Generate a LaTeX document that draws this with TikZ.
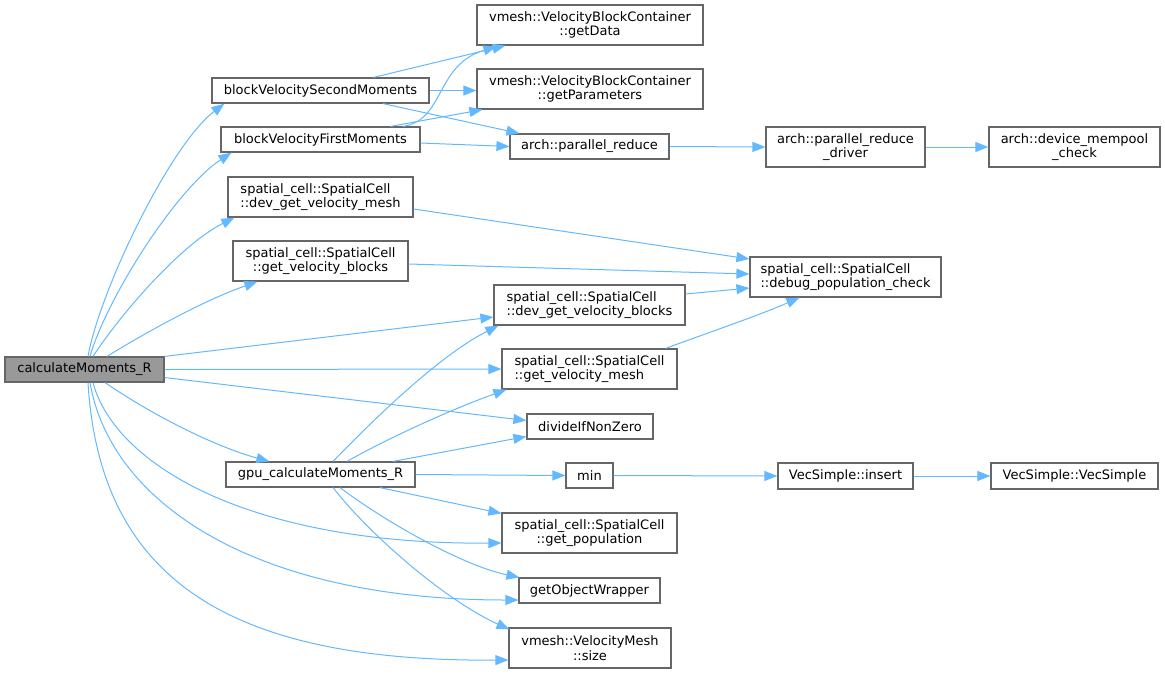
\documentclass[tikz,border=0pt]{standalone}
\usepackage{fontspec}
\setmainfont{DejaVu Sans}
\usetikzlibrary{arrows.meta,calc}
\definecolor{edgec}{HTML}{63B8FF}
\definecolor{bord}{HTML}{666666}
\definecolor{hl}{HTML}{999999}
\tikzset{
  fn/.style={draw=bord, line width=1.2pt, fill=white, inner sep=0pt, text=black,
    font=\fontsize{13}{14.5}\selectfont, align=center},
  fnl/.style={fn, align=left},
  cur/.style={fn, fill=hl},
  call/.style={draw=edgec, line width=1pt, -{Triangle[length=13pt,width=10pt]}},
}
\begin{document}
\begin{tikzpicture}[x=1pt,y=-1pt]
\useasboundingbox (0,0) rectangle (1165,673);
% nodes
\node[cur, minimum width=159pt, minimum height=25pt] (C) at (84.5,369.5) {calculateMoments\_R};
\node[fn, minimum width=217pt, minimum height=25pt] (S) at (320.5,90.5) {blockVelocitySecondMoments};
\node[fn, minimum width=199pt, minimum height=25pt] (F) at (320.5,139.5) {blockVelocityFirstMoments};
\node[fnl, minimum width=185pt, minimum height=40pt] (DGVM) at (320.5,197) {spatial\_cell::SpatialCell\\::dev\_get\_velocity\_mesh};
\node[fn, minimum width=175pt, minimum height=40pt] (GVB) at (320.5,261) {spatial\_cell::SpatialCell\\::get\_velocity\_blocks};
\node[fn, minimum width=189pt, minimum height=25pt] (G) at (320.5,474.5) {gpu\_calculateMoments\_R};
\node[fn, minimum width=226pt, minimum height=40pt] (GD) at (590,25) {vmesh::VelocityBlockContainer\\::getData};
\node[fn, minimum width=226pt, minimum height=40pt] (GPAR) at (590,89) {vmesh::VelocityBlockContainer\\::getParameters};
\node[fn, minimum width=159pt, minimum height=25pt] (PR) at (589.5,146.5) {arch::parallel\_reduce};
\node[fn, minimum width=159pt, minimum height=40pt] (PRD) at (845.5,147) {arch::parallel\_reduce\\\_driver};
\node[fn, minimum width=171pt, minimum height=40pt] (DMC) at (1074.5,147) {arch::device\_mempool\\\_check};
\node[fnl, minimum width=191pt, minimum height=40pt] (DPC) at (845.5,277) {spatial\_cell::SpatialCell\\::debug\_population\_check};
\node[fnl, minimum width=191pt, minimum height=40pt] (DGVB) at (589.5,305) {spatial\_cell::SpatialCell\\::dev\_get\_velocity\_blocks};
\node[fnl, minimum width=175pt, minimum height=40pt] (GVM) at (589.5,369) {spatial\_cell::SpatialCell\\::get\_velocity\_mesh};
\node[fn, minimum width=126pt, minimum height=25pt] (DINZ) at (590,426.5) {divideIfNonZero};
\node[fn, minimum width=47pt, minimum height=25pt] (MIN) at (589.5,475.5) {min};
\node[fn, minimum width=135pt, minimum height=26pt] (INS) at (845.5,476) {VecSimple::insert};
\node[fn, minimum width=167pt, minimum height=26pt] (VS) at (1074.5,476) {VecSimple::VecSimple};
\node[fn, minimum width=175pt, minimum height=40pt] (GP) at (589.5,533) {spatial\_cell::SpatialCell\\::get\_population};
\node[fn, minimum width=141pt, minimum height=25pt] (GOW) at (589.5,590.5) {getObjectWrapper};
\node[fn, minimum width=162pt, minimum height=40pt] (VMS) at (590,648) {vmesh::VelocityMesh\\::size};
% edges from calculateMoments_R
\draw[call] ($(C.north)+(3.5,0)$) .. controls (100,290) and (170,145) .. ($(S.south west)+(13,0)$);
\draw[call] ($(C.north)+(5.5,0)$) .. controls (106,300) and (175,190) .. ($(F.south west)+(11,0)$);
\draw[call] ($(C.north)+(8.5,0)$) .. controls (120,315) and (180,245) .. ($(DGVM.south west)+(7,0)$);
\draw[call] ($(C.north)+(22.5,0)$) .. controls (150,330) and (205,300) .. ($(GVB.south west)+(25,0)$);
\draw[call] (C.north east) -- ($(DGVB.west)+(0,12)$);
\draw[call] (C.east) -- (GVM.west);
\draw[call] ($(C.east)+(0,8)$) -- ($(DINZ.west)+(0,-6)$);
\draw[call] ($(C.south)+(20.5,0)$) .. controls (160,420) and (220,448) .. ($(G.north west)+(44,0)$);
\draw[call] ($(C.south)+(8.5,0)$) .. controls (115,465) and (250,545) .. ($(GP.west)+(0,10)$);
\draw[call] ($(C.south)+(5.5,0)$) .. controls (110,500) and (250,600) .. ($(GOW.west)+(0,9.5)$);
\draw[call] ($(C.south)+(3.5,0)$) .. controls (100,580) and (230,662) .. ($(VMS.west)+(0,12)$);
% edges from gpu_calculateMoments_R
\draw[call] ($(G.north)+(12.5,0)$) .. controls (375,418) and (440,355) .. ($(DGVB.south west)+(5,0)$);
\draw[call] ($(G.north)+(26.5,0)$) .. controls (390,437) and (455,408) .. ($(GVM.south west)+(5,0)$);
\draw[call] ($(G.north)+(72.5,0)$) -- ($(DINZ.west)+(0,10)$);
\draw[call] (G.east) -- (MIN.west);
\draw[call] ($(G.south)+(59.5,0)$) -- ($(GP.north west)+(0,1)$);
\draw[call] ($(G.south)+(19.5,0)$) .. controls (380,518) and (460,565) .. ($(GOW.north west)+(1,0)$);
\draw[call] ($(G.south)+(12.5,0)$) .. controls (370,535) and (445,600) .. ($(VMS.north west)+(1,2)$);
% edges from blockVelocitySecondMoments
\draw[call] ($(S.north)+(53,0)$) -- ($(GD.south west)+(29,0)$);
\draw[call] (S.east) -- ($(GPAR.west)+(0,1.5)$);
\draw[call] ($(S.south)+(62.5,0)$) -- ($(PR.north west)+(10,0)$);
% edges from blockVelocityFirstMoments
\draw[call] ($(F.north)+(82.5,0)$) .. controls (445,120) and (435,65) .. ($(GD.south west)+(20,1)$);
\draw[call] ($(F.north)+(70,0)$) -- ($(GPAR.south west)+(6,0)$);
\draw[call] ($(F.east)+(0,3.5)$) -- (PR.west);
% to debug_population_check
\draw[call] ($(DGVM.east)+(0,12)$) -- ($(DPC.west)+(0,-18)$);
\draw[call] ($(GVB.east)+(0,3)$) -- ($(DPC.west)+(0,-3)$);
\draw[call] ($(DGVB.east)+(0,-11)$) -- ($(DPC.west)+(0,11)$);
\draw[call] ($(GVM.north east)+(-12,0)$) .. controls (710,332) and (760,315) .. ($(DPC.south west)+(50,0)$);
% chains
\draw[call] (PR.east) -- (PRD.west);
\draw[call] (PRD.east) -- (DMC.west);
\draw[call] (MIN.east) -- (INS.west);
\draw[call] (INS.east) -- (VS.west);
\end{tikzpicture}
\end{document}
